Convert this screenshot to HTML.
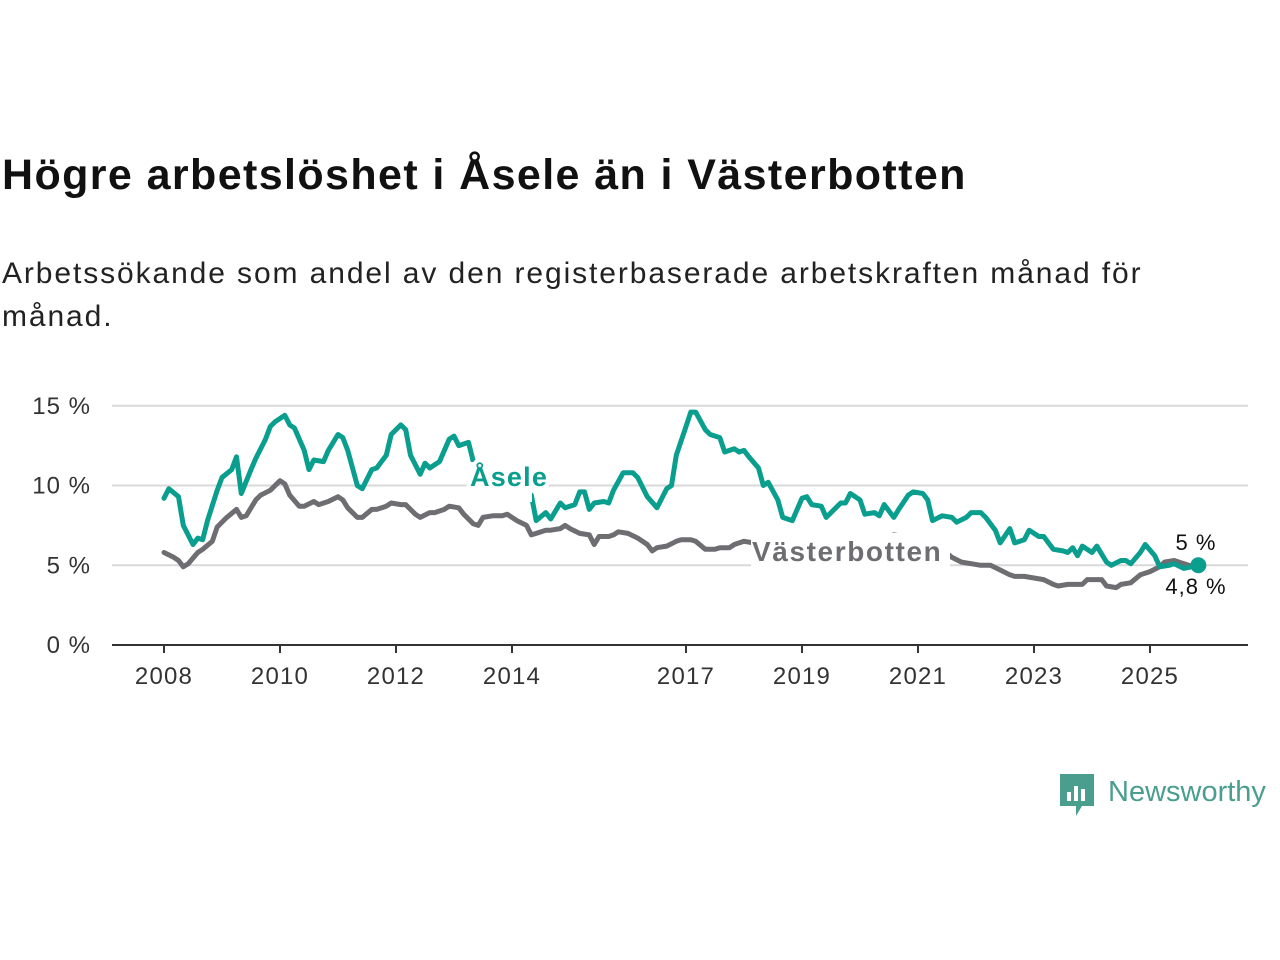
<!DOCTYPE html>
<html><head><meta charset="utf-8"><style>
body{margin:0;width:1280px;height:960px;background:#fff;font-family:"Liberation Sans",sans-serif;overflow:hidden;position:relative}
h1{position:absolute;left:2px;top:151px;margin:0;font-size:43px;font-weight:bold;color:#111;letter-spacing:1.4px;white-space:nowrap}
p{position:absolute;left:2px;top:252px;margin:0;font-size:30px;line-height:43px;color:#222;width:1270px;letter-spacing:1.9px;white-space:nowrap}
</style></head><body>
<h1>Högre arbetslöshet i Åsele än i Västerbotten</h1>
<p>Arbetssökande som andel av den registerbaserade arbetskraften månad för<br>månad.</p>
<svg id="chart" width="1280" height="960" style="position:absolute;left:0;top:0" font-family="Liberation Sans, sans-serif"></svg>
<div style="position:absolute;left:1060px;top:774px;display:flex;align-items:center">
<svg width="34" height="44"><path d="M0 0h34v32h-12l-6 10v-10h-16z" fill="#4a9e8e"/><rect x="7" y="18" width="4" height="9" fill="#fff"/><rect x="14" y="12" width="4" height="15" fill="#fff"/><rect x="21" y="15" width="4" height="12" fill="#fff"/></svg>
<span style="font-size:29px;color:#4a9e8e;margin-left:14px;margin-top:-8px">Newsworthy</span></div>
<script>
const yTicks=[0,5,10,15];
const yTickLabels=["0 %","5 %","10 %","15 %"];
const xTicks=[2008,2010,2012,2014,2017,2019,2021,2023,2025];
const aseleMonths=[0,1,3,4,6,7,8,9,11,12,14,15,16,18,19,21,22,23,25,26,27,29,30,31,33,34,36,37,38,40,41,43,44,46,47,49,50,51,53,54,55,57,59,60,61,63,64,66,70,74,76,77,79,80,82,83,85,86,87,88,89,91,92,93,95,97,98,100,102,104,105,106,108,109,110,112,113,115,116,118,119,120,121,123,124,125,127,128,130,132,133,134,136,137,138,140,141,142,144,145,147,148,149,151,152,154,155,157,158,159,161,163,164,166,167,169,170,172,173,175,176,178,179,181,182,184,186,187,188,189,190,192,193,195,196,198,199,200,202,203,205,206,208,209,211,214];
const aseleValues=[9.2,9.8,9.3,7.5,6.3,6.7,6.6,7.8,9.7,10.5,11.0,11.8,9.5,11.0,11.7,12.9,13.7,14.0,14.4,13.8,13.6,12.2,11.0,11.6,11.5,12.2,13.2,13.0,12.2,10.0,9.8,11.0,11.1,11.9,13.2,13.8,13.5,11.9,10.7,11.4,11.1,11.5,12.9,13.1,12.5,12.7,11.5,10.5,9.6,9.4,9.4,7.8,8.3,7.9,8.9,8.6,8.8,9.6,9.6,8.5,8.9,9.0,8.9,9.7,10.8,10.8,10.5,9.3,8.6,9.8,10.0,11.9,13.7,14.6,14.6,13.5,13.2,13.0,12.1,12.3,12.1,12.2,11.8,11.1,10.0,10.2,9.1,8.0,7.8,9.2,9.3,8.8,8.7,8.0,8.3,8.9,8.9,9.5,9.1,8.2,8.3,8.1,8.8,8.0,8.5,9.4,9.6,9.5,9.1,7.8,8.1,8.0,7.7,8.0,8.3,8.3,8.0,7.2,6.4,7.3,6.4,6.6,7.2,6.8,6.8,6.0,5.9,5.8,6.1,5.6,6.2,5.8,6.2,5.2,5.0,5.3,5.3,5.1,5.8,6.3,5.6,4.9,5.0,5.1,4.8,5.0];
const vbMonths=[0,2,3,4,5,7,8,10,11,13,15,16,17,19,20,22,24,25,26,28,29,31,32,34,36,37,38,40,41,43,44,46,47,49,50,52,53,55,56,58,59,61,62,64,65,66,68,70,71,72,73,75,76,77,79,80,82,83,84,86,88,89,90,92,93,94,96,98,100,101,102,104,106,107,109,110,112,114,115,117,118,120,124,128,132,136,140,144,148,151,153,155,157,159,161,163,165,167,169,171,173,175,176,178,180,182,184,185,187,190,191,194,195,197,198,200,202,204,206,207,209,210,212,214];
const vbValues=[5.8,5.5,5.3,4.9,5.1,5.8,6.0,6.5,7.4,8.0,8.5,8.0,8.1,9.1,9.4,9.7,10.3,10.1,9.4,8.7,8.7,9.0,8.8,9.0,9.3,9.1,8.6,8.0,8.0,8.5,8.5,8.7,8.9,8.8,8.8,8.2,8.0,8.3,8.3,8.5,8.7,8.6,8.2,7.6,7.5,8.0,8.1,8.1,8.2,8.0,7.8,7.5,6.9,7.0,7.2,7.2,7.3,7.5,7.3,7.0,6.9,6.3,6.8,6.8,6.9,7.1,7.0,6.7,6.3,5.9,6.1,6.2,6.5,6.6,6.6,6.5,6.0,6.0,6.1,6.1,6.3,6.5,6.3,6.0,5.8,5.7,5.9,6.2,6.6,6.9,6.8,6.6,6.8,6.6,6.0,5.5,5.2,5.1,5.0,5.0,4.7,4.4,4.3,4.3,4.2,4.1,3.8,3.7,3.8,3.8,4.1,4.1,3.7,3.6,3.8,3.9,4.4,4.6,4.9,5.2,5.3,5.2,5.0,4.8];
const endLabels=["5 %","4,8 %"];

const NS="http://www.w3.org/2000/svg";
const svg=document.getElementById('chart');
const x0=164,pxPerYear=58,yBase=645,pxPerPct=15.95;
const xM=m=>x0+m*pxPerYear/12;
const xY=y=>x0+(y-2008)*pxPerYear;
const yS=v=>yBase-v*pxPerPct;
function mk(t,a,txt){const e=document.createElementNS(NS,t);for(const k in a)e.setAttribute(k,a[k]);if(txt!=null)e.textContent=txt;svg.appendChild(e);return e;}
yTicks.forEach((v,i)=>{
  if(v>0){const g=mk('line',{x1:112,x2:1248,y1:yS(v),y2:yS(v),stroke:'#d9d9d9','stroke-width':2});
  
  }
  const t=mk('text',{x:91,y:yS(v)+8,'text-anchor':'end','font-size':24,'letter-spacing':1,fill:'#333'},yTickLabels[i]);
  
  
});
const ax=mk('line',{x1:112,x2:1248,y1:yBase,y2:yBase,stroke:'#333','stroke-width':2});


xTicks.forEach(y=>{
  const tk=mk('line',{x1:xY(y),x2:xY(y),y1:yBase,y2:yBase+8,stroke:'#333','stroke-width':2});
  
  
  const t=mk('text',{x:xY(y),y:yBase+39,'text-anchor':'middle','font-size':24,'letter-spacing':1.2,fill:'#333'},String(y));
  
  
});
function line(ms,vs,col,name){
  const d=ms.map((m,i)=>(i?'L':'M')+xM(m).toFixed(1)+' '+yS(vs[i]).toFixed(1)).join(' ');
  const p=mk('path',{d,fill:'none',stroke:col,'stroke-width':5,'stroke-linejoin':'round','stroke-linecap':'round'});
  
  
}
line(vbMonths,vbValues,'#6e6d72','vasterbotten-line');
line(aseleMonths,aseleValues,'#0a9e8f','asele-line');
const bg1=mk('rect',{x:470,y:462,width:62,height:40,fill:'#fff'});


const lb1=mk('text',{x:470,y:486,'font-size':27,'font-weight':'bold','letter-spacing':1.2,fill:'#0a9e8f',stroke:'#fff','stroke-width':8,'paint-order':'stroke'},'Åsele');


const bg=mk('rect',{x:751,y:533,width:199,height:34,fill:'#fff'});


const lb2=mk('text',{x:752,y:561,'font-size':28,'font-weight':'bold','letter-spacing':1.6,fill:'#6e6d72'},'Västerbotten');


const dot=mk('circle',{cx:xM(aseleMonths[aseleMonths.length-1]),cy:yS(aseleValues[aseleValues.length-1]),r:8,fill:'#0a9e8f'});


const e1=mk('text',{x:1196,y:550,'text-anchor':'middle','font-size':22,'letter-spacing':1,fill:'#111'},endLabels[0]);


const e2=mk('text',{x:1196,y:594,'text-anchor':'middle','font-size':22,'letter-spacing':1,fill:'#111'},endLabels[1]);


</script>
</body></html>
